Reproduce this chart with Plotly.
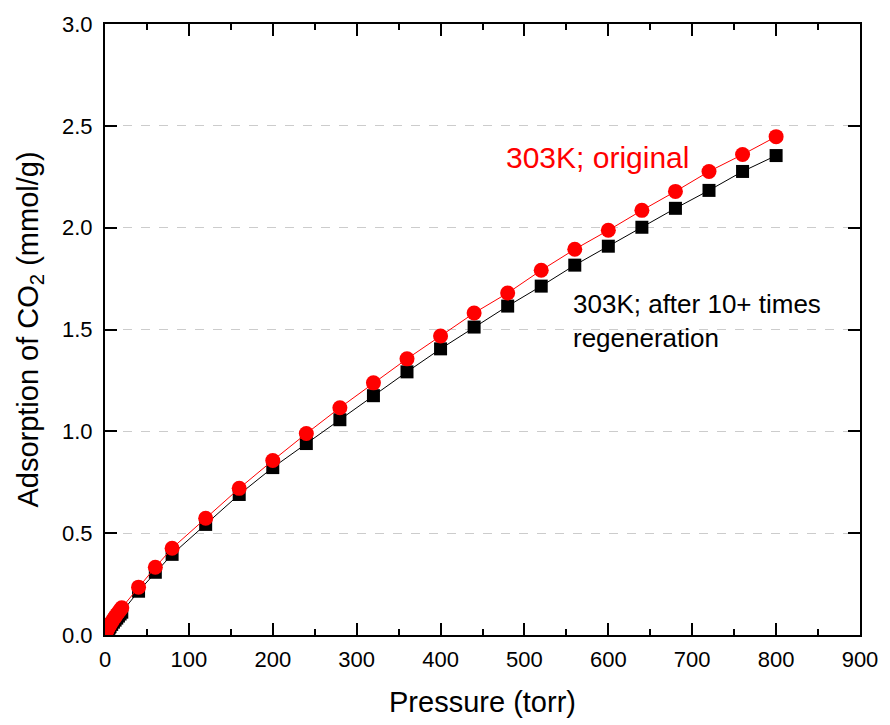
import plotly.graph_objects as go

# Pressure (torr)
pressure = [0.5, 1, 2, 3, 4, 5, 6, 8, 10, 12, 14, 16, 18, 20,
            40, 60, 80, 120, 160, 200, 240, 280, 320, 360, 400, 440,
            480, 520, 560, 600, 640, 680, 720, 760, 800]

# 303K; original
ads_original = [0.006, 0.011, 0.02, 0.029, 0.037, 0.044, 0.051, 0.064, 0.077, 0.089,
                0.101, 0.112, 0.123, 0.134,
                0.235, 0.333, 0.426, 0.573, 0.720, 0.857, 0.989, 1.116, 1.238,
                1.356, 1.468, 1.581, 1.679, 1.791, 1.894, 1.987, 2.085, 2.178,
                2.276, 2.359, 2.447]

# 303K; after 10+ times regeneration
ads_regen = [0.004, 0.008, 0.015, 0.022, 0.029, 0.035, 0.041, 0.052, 0.063, 0.073,
             0.083, 0.093, 0.103, 0.112,
             0.215, 0.308, 0.396, 0.543, 0.690, 0.822, 0.940, 1.057, 1.175,
             1.292, 1.405, 1.512, 1.615, 1.713, 1.816, 1.909, 2.002, 2.095,
             2.183, 2.276, 2.354]

x_ticks = [0, 100, 200, 300, 400, 500, 600, 700, 800, 900]
y_ticks = [0.0, 0.5, 1.0, 1.5, 2.0, 2.5, 3.0]

FONT = "Arial, Liberation Sans, sans-serif"

fig = go.Figure()
fig.add_trace(go.Scatter(
    x=pressure, y=ads_regen, mode="lines+markers",
    line=dict(color="black", width=1),
    marker=dict(symbol="square", size=13, color="black"),
    showlegend=False))
fig.add_trace(go.Scatter(
    x=pressure, y=ads_original, mode="lines+markers",
    line=dict(color="red", width=1),
    marker=dict(symbol="circle", size=15, color="red"),
    showlegend=False))

fig.add_annotation(x=0.528, y=2.345, xref="paper", yref="y",
                   text="303K; original", showarrow=False,
                   xanchor="left", yanchor="middle",
                   font=dict(family=FONT, size=30, color="red"))
fig.add_annotation(x=0.617, y=1.54, xref="paper", yref="y",
                   text="303K; after 10+ times<br>regeneration", showarrow=False,
                   xanchor="left", yanchor="middle", align="left",
                   font=dict(family=FONT, size=26, color="black"))

fig.update_layout(
    width=890, height=725,
    margin=dict(l=105, r=25, t=23, b=89),
    paper_bgcolor="white", plot_bgcolor="white",
    font=dict(family=FONT, color="black"),
)
fig.update_xaxes(
    range=[0, 900], tickvals=x_ticks, ticktext=[str(v) for v in x_ticks],
    showline=True, linecolor="black", linewidth=2, mirror="ticks",
    ticks="inside", ticklen=12, tickwidth=2, tickcolor="black",
    minor=dict(dtick=50, tick0=0, ticks="inside", ticklen=6, tickwidth=2, tickcolor="black"),
    showgrid=False, zeroline=False, ticklabelstandoff=4,
    tickfont=dict(size=22, family=FONT),
    title=dict(text="Pressure (torr)", font=dict(size=29, family=FONT), standoff=20),
)
fig.update_yaxes(
    range=[0, 3.0], tickvals=y_ticks, ticktext=[f"{v:.1f}" for v in y_ticks],
    showline=True, linecolor="black", linewidth=2, mirror="ticks",
    ticks="inside", ticklen=12, tickwidth=2, tickcolor="black",
    showgrid=True, gridcolor="#cccccc", griddash="dash", gridwidth=1,
    zeroline=False, ticklabelstandoff=6,
    tickfont=dict(size=22, family=FONT),
    title=dict(text="Adsorption of CO<sub>2</sub> (mmol/g)", font=dict(size=29, family=FONT), standoff=15),
)

fig.write_html("out.html")
